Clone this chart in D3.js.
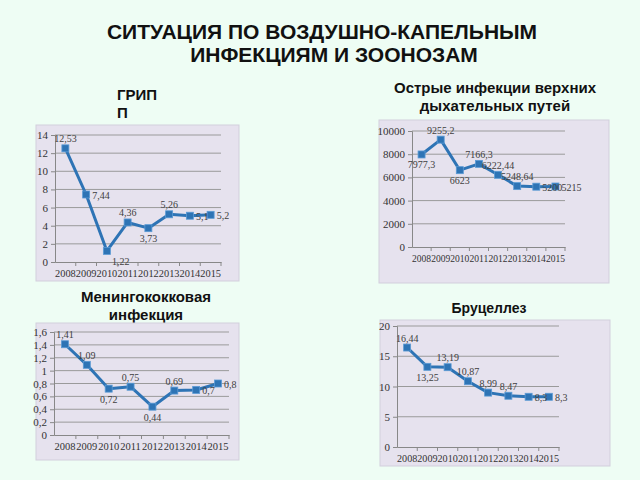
<!DOCTYPE html>
<html lang="ru">
<head>
  <meta charset="UTF-8" />
  <title>Ситуация по воздушно-капельным инфекциям и зоонозам</title>
  <style>
    html, body { margin: 0; padding: 0; background: #eefdf4; }
    svg { display: block; }
    .heading { font-family: "Liberation Sans", Arial, sans-serif; font-weight: bold; fill: #111; }
    .axis text { font-family: "Liberation Serif", "Times New Roman", serif; font-size: 11px; fill: #333; }
    .axis path, .axis line { stroke: #888; }
    .grid line { stroke: #9a9a9a; stroke-width: 1; }
    .label { font-family: "Liberation Serif", "Times New Roman", serif; font-size: 10px; fill: #404040; }
  </style>
</head>
<body>
  <svg id="chart" width="640" height="480"></svg>

  <script src="https://d3js.org/d3.v7.min.js"></script>
  <script>
    // data
    const years = ["2008", "2009", "2010", "2011", "2012", "2013", "2014", "2015"];
    const fluValues = [12.53, 7.44, 1.22, 4.36, 3.73, 5.26, 5.1, 5.2];
    const ariValues = [7977.3, 9255.2, 6623, 7166.3, 6222.44, 5248.64, 5200, 5215];
    const meningValues = [1.41, 1.09, 0.72, 0.75, 0.44, 0.69, 0.7, 0.8];
    const brucValues = [16.44, 13.25, 13.19, 10.87, 8.99, 8.47, 8.3, 8.3];

    const fluTicks = [0, 2, 4, 6, 8, 10, 12, 14];
    const ariTicks = [0, 2000, 4000, 6000, 8000, 10000];
    const meningTicks = [0, 0.2, 0.4, 0.6, 0.8, 1, 1.2, 1.4, 1.6];
    const brucTicks = [0, 5, 10, 15, 20];

    const ru = d3.formatLocale({ decimal: ",", thousands: "", grouping: [3], currency: ["", ""] });
    const fmt = ru.format("~f");

    const svg = d3.select("#chart");
    const blue = "#2e74b5";

    // page title
    svg.append("text").attr("class", "heading")
      .attr("x", 322).attr("y", 39).attr("text-anchor", "middle")
      .attr("font-size", 21).text("СИТУАЦИЯ ПО ВОЗДУШНО-КАПЕЛЬНЫМ");
    svg.append("text").attr("class", "heading")
      .attr("x", 334).attr("y", 62).attr("text-anchor", "middle")
      .attr("font-size", 21).text("ИНФЕКЦИЯМ И ЗООНОЗАМ");

    const charts = [
      {
        title: ["ГРИП", "П"], titleX: 117, titleY: 100, anchor: "start", titleSize: 15,
        panel: [36, 125, 239, 281], plot: [55, 135, 221, 262],
        values: fluValues, ticks: fluTicks,
        place: ["top", "right", "bottomright", "top", "bottom", "top", "right", "right"]
      },
      {
        title: ["Острые инфекции верхних", "дыхательных путей"], titleX: 495, titleY: 93, anchor: "middle", titleSize: 15,
        panel: [379, 120, 609, 283], plot: [412, 131, 565, 247],
        values: ariValues, ticks: ariTicks,
        place: ["bottom", "top", "bottom", "top", "top", "top", "right", "right"]
      },
      {
        title: ["Менингококковая", "инфекция"], titleX: 146, titleY: 302, anchor: "middle", titleSize: 15,
        panel: [36, 323, 239, 460], plot: [54, 332, 229, 435],
        values: meningValues, ticks: meningTicks,
        place: ["top", "top", "bottom", "top", "bottom", "top", "right", "right"]
      },
      {
        title: ["Бруцеллез"], titleX: 489, titleY: 313, anchor: "middle", titleSize: 14,
        panel: [380, 320, 610, 466], plot: [397, 326, 559, 447],
        values: brucValues, ticks: brucTicks,
        place: ["top", "bottom", "top", "top", "top", "top", "right", "right"]
      }
    ];

    charts.forEach(c => {
      // heading
      const t = svg.append("text").attr("class", "heading")
        .attr("font-size", c.titleSize).attr("text-anchor", c.anchor);
      c.title.forEach((line, i) => {
        t.append("tspan").attr("x", c.titleX).attr("y", c.titleY + i * 18).text(line);
      });

      const [px0, py0, px1, py1] = c.panel;
      svg.append("rect")
        .attr("x", px0).attr("y", py0)
        .attr("width", px1 - px0).attr("height", py1 - py0)
        .attr("fill", "#e6e2ee").attr("stroke", "#d2cfdc");

      const [x0, y0, x1, y1] = c.plot;
      const x = d3.scaleBand().domain(years).range([x0, x1]);
      const y = d3.scaleLinear().domain([0, d3.max(c.ticks)]).range([y1, y0]);

      // gridlines
      svg.append("g").attr("class", "grid")
        .selectAll("line").data(c.ticks.slice(1)).join("line")
        .attr("x1", x0).attr("x2", x1)
        .attr("y1", d => y(d)).attr("y2", d => y(d));

      // y axis
      svg.append("g").attr("class", "axis")
        .attr("transform", `translate(${x0},0)`)
        .call(d3.axisLeft(y).tickValues(c.ticks).tickFormat(fmt).tickSize(4).tickPadding(3));

      // x axis, ticks at the category edges; labels squeezed into the band
      const xa = svg.append("g").attr("class", "axis")
        .attr("transform", `translate(0,${y1})`)
        .call(d3.axisBottom(x).tickSize(0).tickPadding(8).tickSizeOuter(0));
      xa.selectAll(".tick text")
        .style("font-size", Math.min(10.5, x.bandwidth() / 2) + "px");
      xa.selectAll(".edge").data(years).join("line").attr("class", "edge")
        .attr("x1", d => x(d) + x.bandwidth()).attr("x2", d => x(d) + x.bandwidth())
        .attr("y1", 0).attr("y2", 4);

      const pts = c.values.map((v, i) => ({ year: years[i], v, place: c.place[i] }));
      const cx = d => x(d.year) + x.bandwidth() / 2;

      svg.append("path").datum(pts)
        .attr("fill", "none").attr("stroke", blue).attr("stroke-width", 3)
        .attr("stroke-linejoin", "round")
        .attr("d", d3.line().x(cx).y(d => y(d.v)));

      svg.append("g").selectAll("rect").data(pts).join("rect")
        .attr("x", d => cx(d) - 3.5).attr("y", d => y(d.v) - 3.5)
        .attr("width", 7).attr("height", 7)
        .attr("fill", blue).attr("stroke", "#5b9bd5").attr("stroke-width", 0.8);

      svg.append("g").selectAll("text").data(pts).join("text")
        .attr("class", "label")
        .attr("x", d => d.place === "right" ? cx(d) + 6 : d.place === "bottomright" ? cx(d) + 5 : cx(d))
        .attr("y", d => d.place === "top" ? y(d.v) - 6 : d.place === "right" ? y(d.v) + 4 : y(d.v) + 14)
        .attr("text-anchor", d => d.place === "right" || d.place === "bottomright" ? "start" : "middle")
        .text(d => fmt(d.v));
    });
  </script>
</body>
</html>
